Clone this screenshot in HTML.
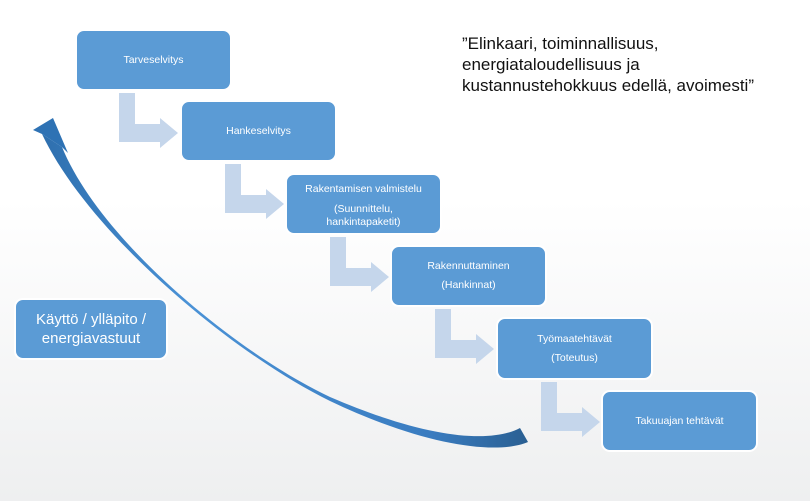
<!DOCTYPE html>
<html><head><meta charset="utf-8"><style>
body{margin:0;width:810px;height:501px;overflow:hidden;background:linear-gradient(#fff 0%,#fff 40%,#eeeff0 100%);font-family:"Liberation Sans",sans-serif;position:relative}
.b{position:absolute;width:157px;height:62px;background:#5b9bd5;border:2px solid #fff;border-radius:9px;box-sizing:border-box;color:#fff;font-size:10.5px;display:flex;flex-direction:column;justify-content:center;align-items:center;text-align:center;line-height:19px}
.q{position:absolute;left:462px;top:33px;font-size:17px;line-height:21px;color:#111}
</style></head><body>
<svg width="810" height="501" style="position:absolute;left:0;top:0">
<defs><linearGradient id="g" x1="0" y1="0" x2="1" y2="0"><stop offset="0" stop-color="#2e6fae"/><stop offset=".3" stop-color="#4a92d6"/><stop offset=".8" stop-color="#3a7cc0"/><stop offset="1" stop-color="#2a5f92"/></linearGradient></defs>
<g fill="#c5d6eb">
<path d="M119 93h16v31h25v-6l18 15-18 15v-6h-41z"/>
<path d="M225 164h16v31h25v-6l18 15-18 15v-6h-41z"/>
<path d="M330 237h16v31h25v-6l18 15-18 15v-6h-41z"/>
<path d="M435 309h16v31h25v-6l18 15-18 15v-6h-41z"/>
<path d="M541 382h16v31h25v-6l18 15-18 15v-6h-41z"/>
</g>
<path d="M42 134 C88 232 230 352 330 401 C420 444 495 456 528 442 L520 428 C490 444 425 438 330 397 C235 352 100 240 62 147 Z" fill="url(#g)"/>
<polygon points="33,130 53,118 68,153 62,147 42,134" fill="#2e72b4"/>
</svg>
<div class="b" style="left:75px;top:29px">Tarveselvitys</div>
<div class="b" style="left:180px;top:100px">Hankeselvitys</div>
<div class="b" style="left:285px;top:173px"><div>Rakentamisen valmistelu</div><div style="line-height:13px;margin-top:4px">(Suunnittelu,<br>hankintapaketit)</div></div>
<div class="b" style="left:390px;top:245px"><div>Rakennuttaminen</div><div>(Hankinnat)</div></div>
<div class="b" style="left:496px;top:317px;height:63px"><div>Työmaatehtävät</div><div>(Toteutus)</div></div>
<div class="b" style="left:601px;top:390px">Takuuajan tehtävät</div>
<div class="b" style="left:14px;top:298px;width:154px;font-size:15px;line-height:19px">Käyttö / ylläpito /<br>energiavastuut</div>
<div class="q">”Elinkaari, toiminnallisuus,<br>energiataloudellisuus ja<br>kustannustehokkuus edellä, avoimesti”</div>
</body></html>
